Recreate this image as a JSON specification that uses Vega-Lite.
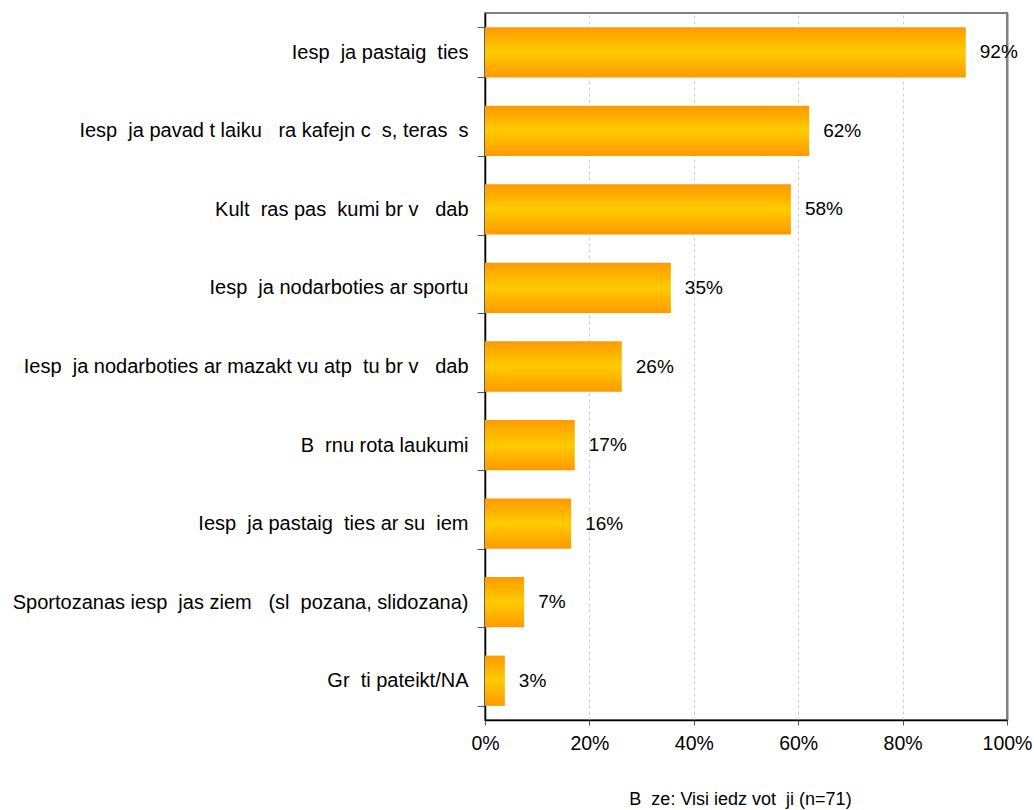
{
  "$schema": "https://vega.github.io/schema/vega-lite/v6.json",
  "width": 522,
  "height": 707,
  "autosize": {"type": "none"},
  "padding": {"left": 485, "top": 13, "right": 27, "bottom": 90},
  "background": "white",
  "config": {
    "font": "Liberation Sans",
    "view": {"stroke": "#808080", "strokeWidth": 2}
  },
  "data": {
    "values": [
      {"cat": "Iesp\u00a0\u00a0ja pastaig\u00a0\u00a0ties", "value": 0.921, "label": "92%"},
      {"cat": "Iesp\u00a0\u00a0ja pavad t laiku\u00a0\u00a0\u00a0ra kafejn c\u00a0\u00a0s, teras\u00a0\u00a0s", "value": 0.621, "label": "62%"},
      {"cat": "Kult\u00a0\u00a0ras pas\u00a0\u00a0kumi br v\u00a0\u00a0\u00a0dab\u00a0\u00a0", "value": 0.586, "label": "58%"},
      {"cat": "Iesp\u00a0\u00a0ja nodarboties ar sportu", "value": 0.356, "label": "35%"},
      {"cat": "Iesp\u00a0\u00a0ja nodarboties ar mazakt vu atp\u00a0\u00a0tu br v\u00a0\u00a0\u00a0dab\u00a0\u00a0", "value": 0.262, "label": "26%"},
      {"cat": "B\u00a0\u00a0rnu rota laukumi", "value": 0.172, "label": "17%"},
      {"cat": "Iesp\u00a0\u00a0ja pastaig\u00a0\u00a0ties ar su\u00a0\u00a0iem", "value": 0.165, "label": "16%"},
      {"cat": "Sportozanas iesp\u00a0\u00a0jas ziem\u00a0\u00a0\u00a0(sl\u00a0\u00a0pozana, slidozana)", "value": 0.075, "label": "7%"},
      {"cat": "Gr\u00a0\u00a0ti pateikt/NA", "value": 0.038, "label": "3%"}
    ]
  },
  "encoding": {
    "y": {
      "field": "cat",
      "type": "nominal",
      "sort": null,
      "scale": {"paddingInner": 0.36, "paddingOuter": 0.18},
      "axis": {
        "title": null,
        "domainColor": "black",
        "domainWidth": 1.5,
        "tickBand": "extent",
        "ticks": true,
        "tickSize": 8,
        "tickColor": "#555555",
        "labelFontSize": 20,
        "labelColor": "black",
        "labelPadding": 9,
        "labelLimit": 600,
        "grid": false
      }
    }
  },
  "layer": [
    {
      "mark": {
        "type": "bar",
        "color": {
          "gradient": "linear",
          "x1": 0, "y1": 0, "x2": 0, "y2": 1,
          "stops": [
            {"offset": 0, "color": "#FF9900"},
            {"offset": 0.5, "color": "#FFCC00"},
            {"offset": 1, "color": "#FF9900"}
          ]
        }
      },
      "encoding": {
        "x": {
          "field": "value",
          "type": "quantitative",
          "scale": {"domain": [0, 1], "nice": false},
          "axis": {
            "format": "%",
            "values": [0, 0.2, 0.4, 0.6, 0.8, 1],
            "labelFlush": false,
            "labelBound": false,
            "title": "B\u00a0\u00a0ze: Visi iedz vot\u00a0\u00a0ji (n=71)",
            "titleFontSize": 18,
            "titleFontWeight": "normal",
            "titleColor": "black",
            "titlePadding": 38,
            "titleX": 255,
            "titleAlign": "center",
            "domainColor": "black",
            "domainWidth": 1.5,
            "tickColor": "#555555",
            "tickSize": 5,
            "labelFontSize": 19.5,
            "labelColor": "black",
            "labelPadding": 9,
            "grid": true,
            "gridColor": {"condition": {"test": "datum.value == 1", "value": "#808080"}, "value": "#CFCFCF"},
            "gridDash": {"condition": {"test": "datum.value == 1", "value": []}, "value": [3, 3]},
            "gridWidth": {"condition": {"test": "datum.value == 1", "value": 2}, "value": 1}
          }
        }
      }
    },
    {
      "mark": {"type": "text", "align": "left", "baseline": "middle", "dx": 14, "fontSize": 19, "color": "black"},
      "encoding": {
        "x": {"field": "value", "type": "quantitative"},
        "text": {"field": "label", "type": "nominal"}
      }
    }
  ]
}
